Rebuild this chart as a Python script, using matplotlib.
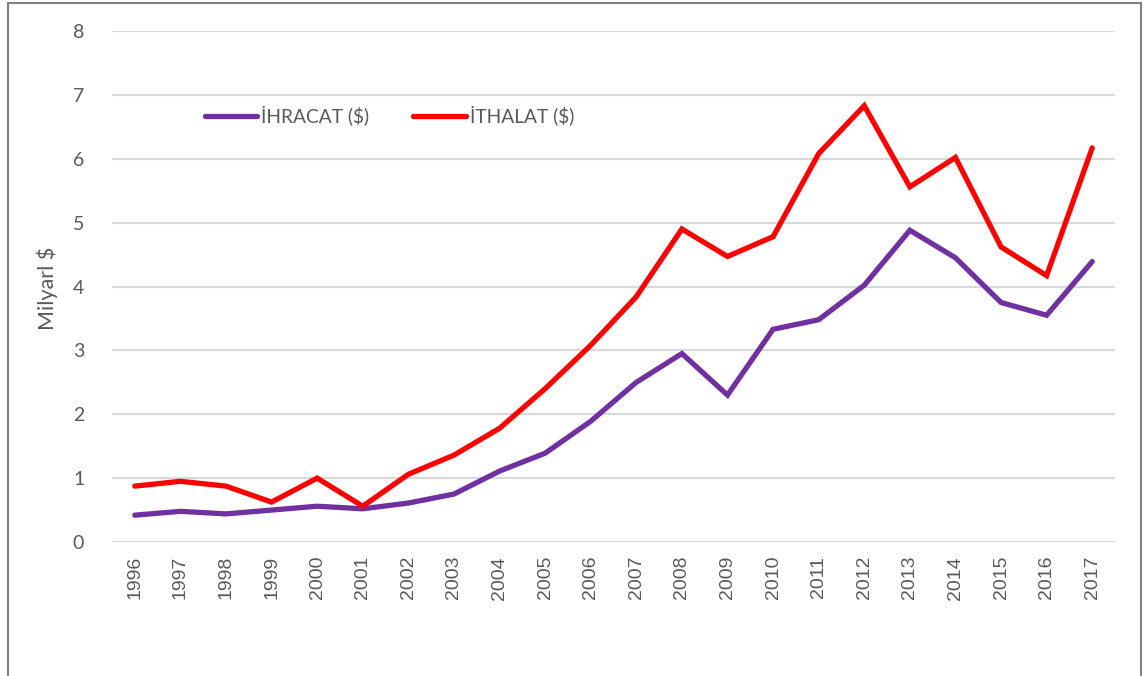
import matplotlib
matplotlib.use("Agg")
import matplotlib.pyplot as plt
from matplotlib.patches import Rectangle

years = ["1996", "1997", "1998", "1999", "2000", "2001", "2002", "2003", "2004", "2005", "2006",
         "2007", "2008", "2009", "2010", "2011", "2012", "2013", "2014", "2015", "2016", "2017"]
ihracat = [0.42, 0.48, 0.44, 0.50, 0.56, 0.52, 0.61, 0.75, 1.11, 1.39, 1.89,
           2.50, 2.95, 2.30, 3.33, 3.48, 4.02, 4.88, 4.45, 3.75, 3.55, 4.39]
ithalat = [0.875, 0.95, 0.875, 0.625, 1.00, 0.56, 1.06, 1.36, 1.78, 2.40, 3.08,
           3.84, 4.90, 4.47, 4.78, 6.08, 6.83, 5.56, 6.02, 4.62, 4.17, 6.17]
yticks = [0, 1, 2, 3, 4, 5, 6, 7, 8]

W, H = 1147, 676
fig = plt.figure(figsize=(W / 100, H / 100), dpi=100)
plt.rcParams['font.family'] = ['Liberation Sans', 'DejaVu Sans']
CAL = ["Lato", "DejaVu Sans"]
ax = fig.add_axes([112 / W, 1 - 542 / H, (1115 - 112) / W, (542 - 31) / H])

x = list(range(len(years)))
ax.plot(x, ihracat, color="#7030A0", lw=3.8, solid_capstyle="round", solid_joinstyle="miter", label="İHRACAT ($)", zorder=3)
ax.plot(x, ithalat, color="#FF0000", lw=3.8, solid_capstyle="round", solid_joinstyle="miter", label="İTHALAT ($)", zorder=3)

ax.set_xlim(-0.5, len(years) - 0.5)
ax.set_ylim(0, 8)
ax.set_yticks(yticks)
ax.set_xticks(x)
ax.set_xticklabels(years, rotation=90, fontsize=14, color="#595959")
for t in ax.get_yticklabels():
    t.set_family(CAL)
ax.tick_params(axis="y", labelsize=14, colors="#595959", length=0, pad=20)
ax.tick_params(axis="x", length=0, pad=10)
ax.grid(axis="y", color="#D9D9D9", lw=1.5)
ax.set_axisbelow(True)
for s in ax.spines.values():
    s.set_visible(False)

fig.text(47 / W, 1 - 288 / H, "Milyarl $", rotation=90, ha="center", va="center",
         fontsize=15.5, color="#595959", family=CAL)

leg = ax.legend(loc="center left", bbox_to_anchor=((197 - 112) / (1115 - 112), (542 - 116) / (542 - 31)),
                ncol=2, frameon=False, prop={"family": CAL, "size": 13.8},
                handlelength=2.75, handletextpad=0.2, columnspacing=2.3, borderaxespad=0)
for t in leg.get_texts():
    t.set_color("#595959")

fig.patches.append(Rectangle((8 / W, -0.1), (1141 - 8) / W, 1.1 - 3 / H, transform=fig.transFigure,
                             fill=False, edgecolor="#808080", lw=1.5))

fig.savefig("out.png", dpi=100, facecolor="white")
